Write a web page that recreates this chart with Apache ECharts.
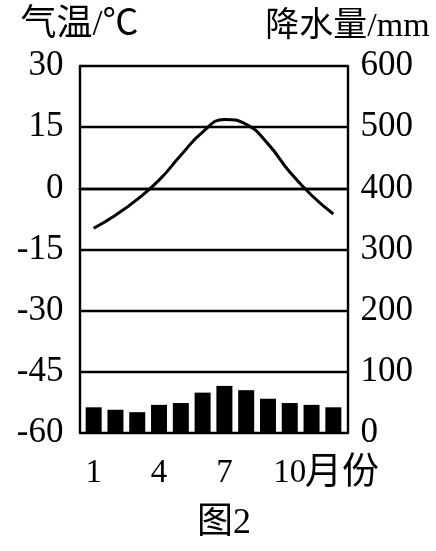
<!DOCTYPE html>
<html>
<head>
<meta charset="utf-8">
<script src="https://cdn.jsdelivr.net/npm/echarts@6/dist/echarts.min.js"></script>
<style>html,body{margin:0;padding:0;background:#fff;}#c{width:436px;height:551px;}</style>
</head>
<body>
<div id="c"></div>
<script>
var months = [1,2,3,4,5,6,7,8,9,10,11,12];
var temperature = [-9.8, -6.6, -2.7, 2.0, 8.1, 13.8, 16.9, 15.7, 10.9, 4.0, -1.7, -6.3];
var precipitation = [42, 38, 34, 46, 49, 66, 77, 70, 56, 49, 46, 42];
var monthLabels = [1, 4, 7, 10];
var tempTicks = {min: -60, max: 30, interval: 15};
var precTicks = {min: 0, max: 600, interval: 100};

var FONT = "'Liberation Serif', 'Noto Sans CJK SC', serif";
var chart = echarts.init(document.getElementById('c'), null, {renderer: 'canvas'});
var option = {
  backgroundColor: '#fff',
  animation: false,
  grid: {left: 79.5, right: 88.5, top: 66, bottom: 118, containLabel: false},
  xAxis: {
    type: 'value', min: 0.35, max: 12.65,
    axisLine: {show: true, lineStyle: {color: '#000', width: 2.4}},
    axisTick: {show: false},
    splitLine: {show: false},
    axisLabel: {customValues: monthLabels, color: '#000', fontFamily: FONT, fontSize: 33, margin: 24}
  },
  yAxis: [{
    type: 'value', min: tempTicks.min, max: tempTicks.max, interval: tempTicks.interval,
    name: '气温/℃', nameLocation: 'end', nameGap: 22,
    nameTextStyle: {color: '#000', fontFamily: FONT, fontSize: 36, align: 'center'},
    axisLine: {show: true, lineStyle: {color: '#000', width: 2.4}},
    axisTick: {show: false},
    splitLine: {show: true, lineStyle: {color: '#000', width: 2.4}},
    axisLabel: {color: '#000', fontFamily: FONT, fontSize: 35, margin: 16}
  }, {
    type: 'value', position: 'right', min: precTicks.min, max: precTicks.max, interval: precTicks.interval,
    name: '降水量/mm', nameLocation: 'end', nameGap: 22,
    nameTextStyle: {color: '#000', fontFamily: FONT, fontSize: 34, align: 'center'},
    axisLine: {show: true, lineStyle: {color: '#000', width: 2.4}},
    axisTick: {show: false},
    splitLine: {show: false},
    axisLabel: {color: '#000', fontFamily: FONT, fontSize: 35, margin: 13}
  }],
  graphic: [
    {type: 'text', left: 305, top: 456, style: {text: '月份', fill: '#000', font: '37px ' + FONT}},
    {type: 'text', left: 197, top: 506, style: {text: '图2', fill: '#000', font: '36px ' + FONT}}
  ],
  series: [{
    type: 'bar', yAxisIndex: 1, barWidth: 16,
    itemStyle: {color: '#000'},
    data: months.map(function (m, i) { return [m, precipitation[i]]; })
  }, {
    type: 'line', yAxisIndex: 0, smooth: true, symbol: 'none',
    lineStyle: {color: '#000', width: 3},
    data: months.map(function (m, i) { return [m, temperature[i]]; })
  }]
};
chart.setOption(option);
</script>
</body>
</html>
